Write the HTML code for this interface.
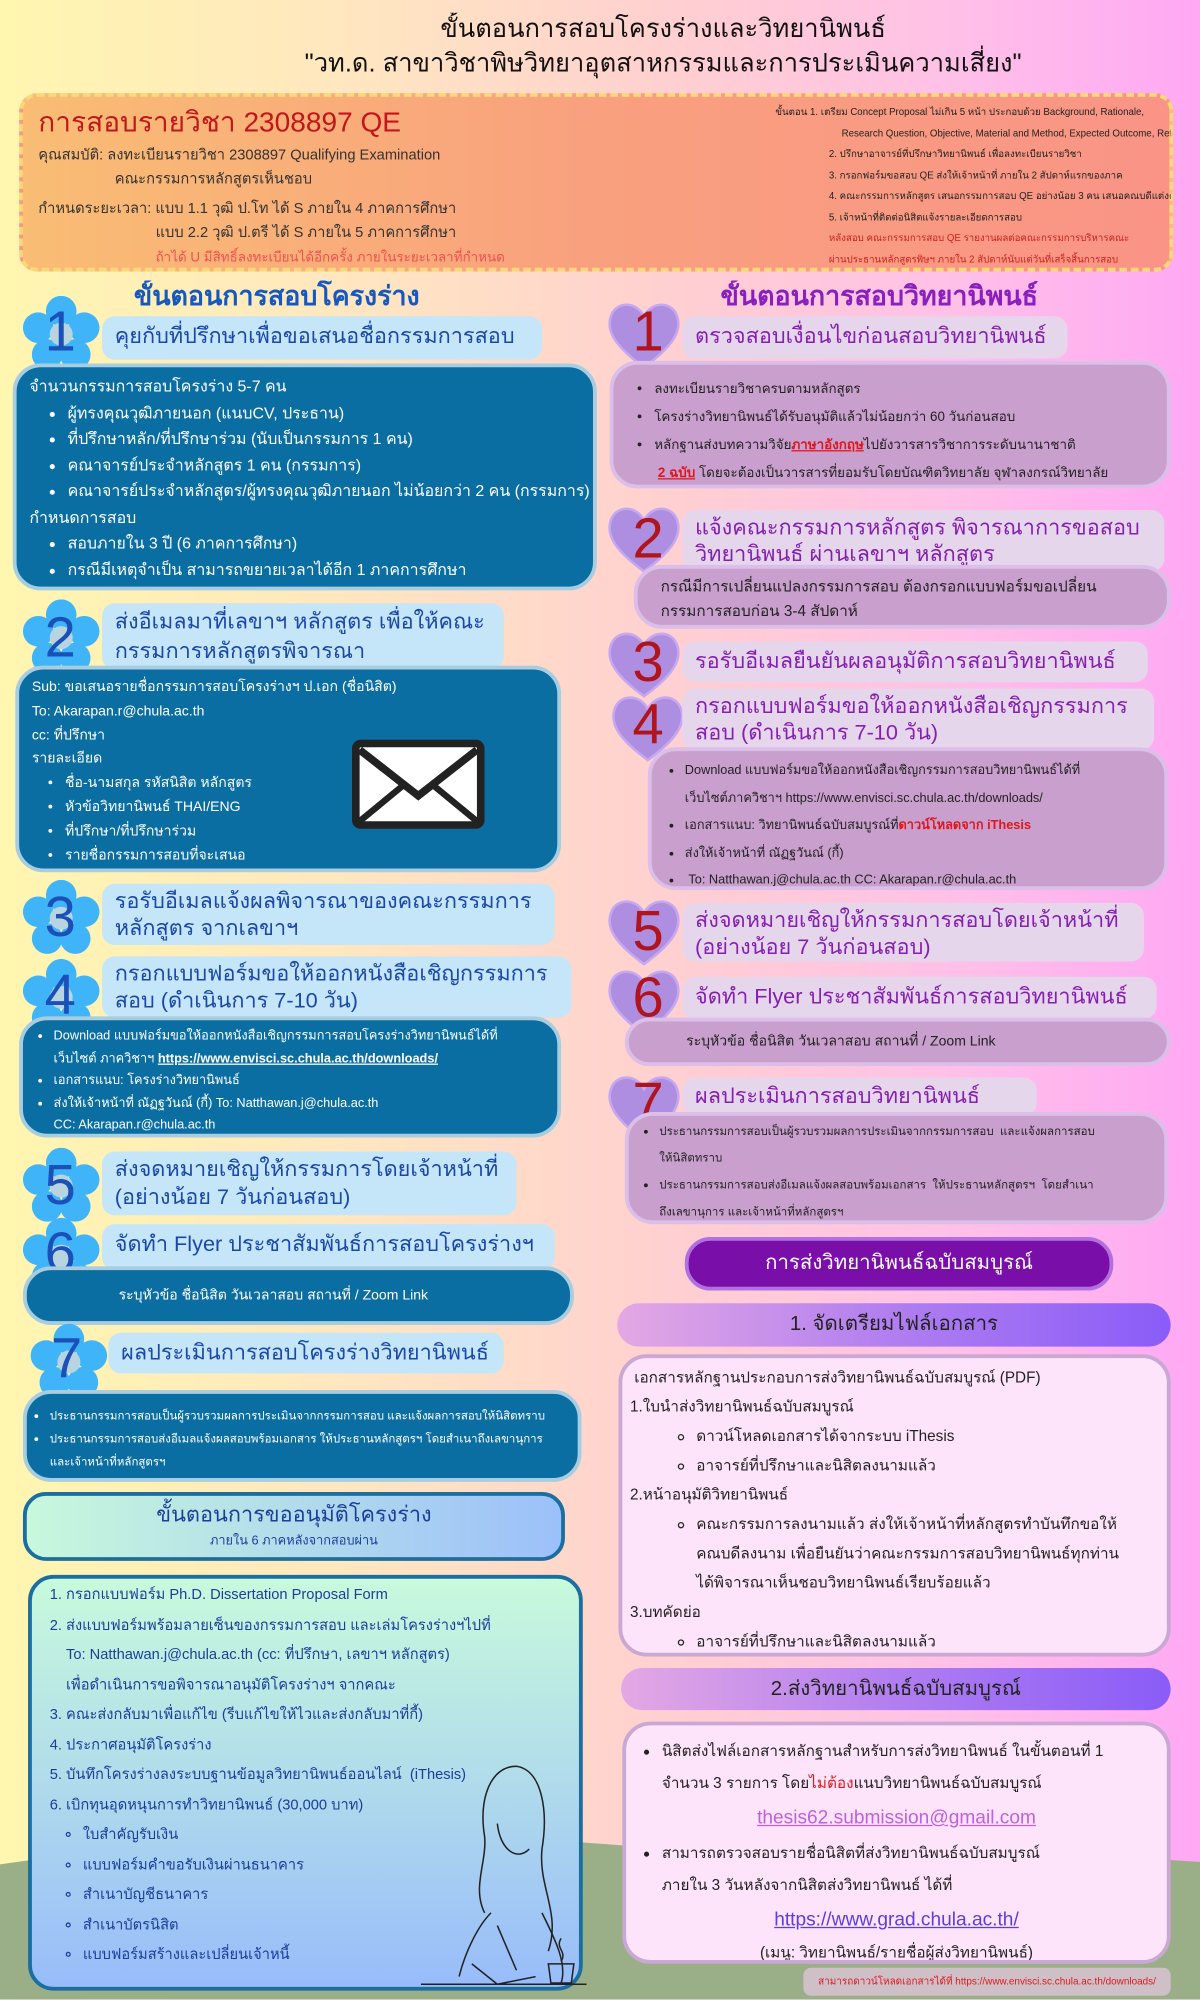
<!DOCTYPE html>
<html><head><meta charset="utf-8">
<style>
html,body{margin:0;padding:0;width:1200px;height:2000px;overflow:hidden}
body{font-family:"Liberation Sans","Noto Sans CJK SC",sans-serif}
#w{position:absolute;left:0;top:0;width:941px;height:1568px;transform:scale(1.27524);transform-origin:0 0;
background:linear-gradient(90deg,#fff6b0 0%,#ffe6c0 30%,#ffd0d0 55%,#ffc0e8 80%,#ffa8f4 100%);overflow:hidden}
.a{position:absolute;box-sizing:border-box}
.t{white-space:nowrap;overflow:hidden}
.lblL{background:#c4e6f8;border-radius:10px;color:#1a47a8;font-size:17px;line-height:26px;padding:3px 10px}
.boxL{background:#0a6ea3;border:3px solid #a8cde0;border-radius:22px;color:#fff;font-size:12.5px;line-height:20.5px;padding:5px 10px}
.lblR{background:#e6d6ec;border-radius:10px;color:#8420b0;font-size:17px;line-height:26px;padding:3px 10px}
.boxR{background:#c99fcd;border:3px solid #dcbfe8;border-radius:22px;color:#222;font-size:12px;line-height:23px;padding:6px 10px}
ul{margin:0;padding-left:30px}
.bar{border-radius:18px;background:linear-gradient(90deg,#e4a8e4,#b07ef0,#8a5cf8);color:#222;font-size:16px;text-align:center}
.pbox{background:#fde4fa;border:3px solid #c9a8d4;border-radius:22px;color:#222;font-size:12.5px;line-height:23px}
.num{position:absolute;font-size:44px;line-height:46px}
</style></head><body><div id="w">

<svg class="a" style="left:0;top:0" width="941" height="1568">
<path d="M0 1462 Q150 1440 300 1440 Q420 1440 520 1450 Q700 1445 941 1460 L941 1568 L0 1568Z" fill="#9aae88"/>
</svg>

<div class="a t" style="left:0;width:1040px;top:10px;text-align:center;font-size:20px;line-height:27px;color:#111">ขั้นตอนการสอบโครงร่างและวิทยานิพนธ์<br>"วท.ด. สาขาวิชาพิษวิทยาอุตสาหกรรมและการประเมินความเสี่ยง"</div>

<div class="a" style="left:15px;top:73px;width:905px;height:140px;border:3px dashed #f8d878;border-radius:14px;background:linear-gradient(90deg,#f9bd74,#f9a07e,#f99486)"></div>
<div class="a t" style="left:30px;top:82px;font-size:22px;line-height:28px;color:#c0161c">การสอบรายวิชา 2308897 QE</div>
<div class="a t" style="left:30px;top:113px;font-size:11.5px;line-height:19px;color:#333">คุณสมบัติ: ลงทะเบียนรายวิชา 2308897 Qualifying Examination<br><span style="padding-left:60px">คณะกรรมการหลักสูตรเห็นชอบ</span></div>
<div class="a t" style="left:30px;top:155px;font-size:11.5px;line-height:19px;color:#333">กำหนดระยะเวลา: แบบ 1.1 วุฒิ ป.โท ได้ S ภายใน 4 ภาคการศึกษา<br><span style="padding-left:92px">แบบ 2.2 วุฒิ ป.ตรี ได้ S ภายใน 5 ภาคการศึกษา</span><br><span style="padding-left:92px;color:#f05050;font-size:10.5px">ถ้าได้ U มีสิทธิ์ลงทะเบียนได้อีกครั้ง ภายในระยะเวลาที่กำหนด</span></div>
<div class="a t" style="left:608px;top:80px;width:310px;font-size:7.6px;line-height:16.5px;color:#222">ขั้นตอน 1. เตรียม Concept Proposal ไม่เกิน 5 หน้า ประกอบด้วย Background, Rationale,<br><span style="padding-left:52px">Research Question, Objective, Material and Method, Expected Outcome, Reference</span><br><span style="padding-left:42px">2. ปรึกษาอาจารย์ที่ปรึกษาวิทยานิพนธ์ เพื่อลงทะเบียนรายวิชา</span><br><span style="padding-left:42px">3. กรอกฟอร์มขอสอบ QE ส่งให้เจ้าหน้าที่ ภายใน 2 สัปดาห์แรกของภาค</span><br><span style="padding-left:42px">4. คณะกรรมการหลักสูตร เสนอกรรมการสอบ QE อย่างน้อย 3 คน เสนอคณบดีแต่งตั้ง</span><br><span style="padding-left:42px">5. เจ้าหน้าที่ติดต่อนิสิตแจ้งรายละเอียดการสอบ</span><br><span style="padding-left:42px;color:#d0201c">หลังสอบ คณะกรรมการสอบ QE รายงานผลต่อคณะกรรมการบริหารคณะ</span><br><span style="padding-left:42px;color:#d0201c">ผ่านประธานหลักสูตรพิษฯ ภายใน 2 สัปดาห์นับแต่วันที่เสร็จสิ้นการสอบ</span></div>

<div class="a t" style="left:105px;top:220px;font-size:21px;line-height:26px;font-weight:bold;color:#1558c0">ขั้นตอนการสอบโครงร่าง</div>
<div class="a t" style="left:565px;top:220px;font-size:21px;line-height:26px;font-weight:bold;color:#8a1fc0">ขั้นตอนการสอบวิทยานิพนธ์</div>

<svg width="0" height="0" style="position:absolute"><defs>
<g id="fl"><circle cx="30" cy="12" r="12" fill="#3fb4f8"/><circle cx="48" cy="25" r="12" fill="#3fb4f8"/><circle cx="41" cy="46" r="12" fill="#3fb4f8"/><circle cx="19" cy="46" r="12" fill="#3fb4f8"/><circle cx="12" cy="25" r="12" fill="#3fb4f8"/><circle cx="30" cy="30" r="9" fill="#b8d4e0"/></g>
<g id="ht"><path d="M30 56 C8 40 0 28 4 16 C8 4 24 4 30 16 C36 4 52 4 56 16 C60 28 52 40 30 56Z" fill="#ae8ee0" stroke="#c6a8f0" stroke-width="2"/></g>
</defs></svg>

<!-- L1 -->
<svg class="a" style="left:18px;top:232px" width="62" height="62"><use href="#fl"/></svg>
<div class="num" style="left:35px;top:238px;color:#1a50b8">1</div>
<div class="a lblL t" style="left:80px;top:248px;width:345px;height:34px">คุยกับที่ปรึกษาเพื่อขอเสนอชื่อกรรมการสอบ</div>
<div class="a boxL t" style="left:10px;top:285px;width:458px;height:178px">จำนวนกรรมการสอบโครงร่าง 5-7 คน
<ul><li>ผู้ทรงคุณวุฒิภายนอก (แนบCV, ประธาน)</li><li>ที่ปรึกษาหลัก/ที่ปรึกษาร่วม (นับเป็นกรรมการ 1 คน)</li><li>คณาจารย์ประจำหลักสูตร 1 คน (กรรมการ)</li><li>คณาจารย์ประจำหลักสูตร/ผู้ทรงคุณวุฒิภายนอก ไม่น้อยกว่า 2 คน (กรรมการ)</li></ul>กำหนดการสอบ<ul><li>สอบภายใน 3 ปี (6 ภาคการศึกษา)</li><li>กรณีมีเหตุจำเป็น สามารถขยายเวลาได้อีก 1 ภาคการศึกษา</li></ul></div>

<!-- L2 -->
<svg class="a" style="left:18px;top:470px" width="62" height="62"><use href="#fl"/></svg>
<div class="num" style="left:35px;top:478px;color:#1a50b8">2</div>
<div class="a lblL t" style="left:80px;top:473px;width:315px;height:52px;line-height:23px">ส่งอีเมลมาที่เลขาฯ หลักสูตร เพื่อให้คณะ<br>กรรมการหลักสูตรพิจารณา</div>
<div class="a boxL t" style="left:12px;top:522px;width:428px;height:162px;font-size:11px;line-height:18.8px">Sub: ขอเสนอรายชื่อกรรมการสอบโครงร่างฯ ป.เอก (ชื่อนิสิต)<br>To: Akarapan.r@chula.ac.th<br>cc: ที่ปรึกษา<br>รายละเอียด<ul style="padding-left:26px"><li>ชื่อ-นามสกุล รหัสนิสิต หลักสูตร</li><li>หัวข้อวิทยานิพนธ์ THAI/ENG</li><li>ที่ปรึกษา/ที่ปรึกษาร่วม</li><li>รายชื่อกรรมการสอบที่จะเสนอ</li></ul></div>
<svg class="a" style="left:276px;top:580px" width="104" height="70"><rect x="3" y="3" width="98" height="64" rx="4" fill="#fff" stroke="#222" stroke-width="6"/><path d="M6 8 L52 44 L98 8" fill="none" stroke="#222" stroke-width="6"/><path d="M6 64 L40 36 M98 64 L64 36" stroke="#222" stroke-width="5"/></svg>

<!-- L3 -->
<svg class="a" style="left:18px;top:690px" width="62" height="62"><use href="#fl"/></svg>
<div class="num" style="left:35px;top:697px;color:#1a50b8">3</div>
<div class="a lblL t" style="left:80px;top:693px;width:355px;height:48px;line-height:21px">รอรับอีเมลแจ้งผลพิจารณาของคณะกรรมการ<br>หลักสูตร จากเลขาฯ</div>

<!-- L4 -->
<svg class="a" style="left:18px;top:752px" width="62" height="62"><use href="#fl"/></svg>
<div class="num" style="left:35px;top:758px;color:#1a50b8">4</div>
<div class="a lblL t" style="left:80px;top:750px;width:368px;height:48px;line-height:21px">กรอกแบบฟอร์มขอให้ออกหนังสือเชิญกรรมการ<br>สอบ (ดำเนินการ 7-10 วัน)</div>
<div class="a boxL t" style="left:15px;top:797px;width:425px;height:95px;font-size:10px;line-height:17.5px;padding:4px 6px"><ul style="padding-left:18px"><li>Download แบบฟอร์มขอให้ออกหนังสือเชิญกรรมการสอบโครงร่างวิทยานิพนธ์ได้ที่<br>เว็บไซต์ ภาควิชาฯ <u><b>https://www.envisci.sc.chula.ac.th/downloads/</b></u></li><li>เอกสารแนบ: โครงร่างวิทยานิพนธ์</li><li>ส่งให้เจ้าหน้าที่ ณัฏฐวันณ์ (กี้) To: Natthawan.j@chula.ac.th<br>CC: Akarapan.r@chula.ac.th</li></ul></div>

<!-- L5 -->
<svg class="a" style="left:18px;top:900px" width="62" height="62"><use href="#fl"/></svg>
<div class="num" style="left:35px;top:907px;color:#1a50b8">5</div>
<div class="a lblL t" style="left:80px;top:903px;width:325px;height:50px;line-height:22px">ส่งจดหมายเชิญให้กรรมการโดยเจ้าหน้าที่<br>(อย่างน้อย 7 วันก่อนสอบ)</div>

<!-- L6 -->
<svg class="a" style="left:18px;top:955px" width="62" height="62"><use href="#fl"/></svg>
<div class="num" style="left:35px;top:960px;color:#1a50b8">6</div>
<div class="a lblL t" style="left:80px;top:960px;width:355px;height:36px">จัดทำ Flyer ประชาสัมพันธ์การสอบโครงร่างฯ</div>
<div class="a boxL t" style="left:18px;top:993px;width:432px;height:46px;font-size:11px;line-height:40px;padding:0 0 0 72px">ระบุหัวข้อ ชื่อนิสิต วันเวลาสอบ สถานที่ / Zoom Link</div>

<!-- L7 -->
<svg class="a" style="left:24px;top:1038px" width="62" height="62"><use href="#fl"/></svg>
<div class="num" style="left:40px;top:1043px;color:#1a50b8">7</div>
<div class="a lblL t" style="left:85px;top:1045px;width:310px;height:32px">ผลประเมินการสอบโครงร่างวิทยานิพนธ์</div>
<div class="a boxL t" style="left:18px;top:1090px;width:438px;height:72px;font-size:9px;line-height:18px;padding:8px 4px"><ul style="padding-left:14px"><li>ประธานกรรมการสอบเป็นผู้รวบรวมผลการประเมินจากกรรมการสอบ และแจ้งผลการสอบให้นิสิตทราบ</li><li>ประธานกรรมการสอบส่งอีเมลแจ้งผลสอบพร้อมเอกสาร ให้ประธานหลักสูตรฯ โดยสำเนาถึงเลขานุการ<br>และเจ้าหน้าที่หลักสูตรฯ</li></ul></div>

<!-- approval -->
<div class="a" style="left:18px;top:1170px;width:425px;height:54px;border:3px solid #1a6fa0;border-radius:18px;background:linear-gradient(90deg,#c8f8dc,#9cc0fa);text-align:center;color:#1a3e9a">
<div style="font-size:17px;line-height:26px;margin-top:2px">ขั้นตอนการขออนุมัติโครงร่าง</div><div style="font-size:10px;line-height:16px">ภายใน 6 ภาคหลังจากสอบผ่าน</div></div>
<div class="a t" style="left:22px;top:1235px;width:435px;height:326px;border:3px solid #1a6fa0;border-radius:20px;background:linear-gradient(180deg,#c8fadc,#98bcfa);color:#1a3e9a;font-size:11.5px;line-height:23.5px;padding:2px 10px 0 14px">
1. กรอกแบบฟอร์ม Ph.D. Dissertation Proposal Form<br>2. ส่งแบบฟอร์มพร้อมลายเซ็นของกรรมการสอบ และเล่มโครงร่างฯไปที่<br>&nbsp;&nbsp;&nbsp;&nbsp;To: Natthawan.j@chula.ac.th (cc: ที่ปรึกษา, เลขาฯ หลักสูตร)<br>&nbsp;&nbsp;&nbsp;&nbsp;เพื่อดำเนินการขอพิจารณาอนุมัติโครงร่างฯ จากคณะ<br>3. คณะส่งกลับมาเพื่อแก้ไข (รีบแก้ไขให้ไวและส่งกลับมาที่กี้)<br>4. ประกาศอนุมัติโครงร่าง<br>5. บันทึกโครงร่างลงระบบฐานข้อมูลวิทยานิพนธ์ออนไลน์ &nbsp;(iThesis)<br>6. เบิกทุนอุดหนุนการทำวิทยานิพนธ์ (30,000 บาท)<br>
<ul style="list-style:circle;padding-left:26px"><li>ใบสำคัญรับเงิน</li><li>แบบฟอร์มคำขอรับเงินผ่านธนาคาร</li><li>สำเนาบัญชีธนาคาร</li><li>สำเนาบัตรนิสิต</li><li>แบบฟอร์มสร้างและเปลี่ยนเจ้าหนี้</li></ul></div>
<svg class="a" style="left:330px;top:1380px" width="130" height="180" fill="none" stroke="#222" stroke-width="1.2">
<path d="M75 5 C55 5 45 30 50 60 C52 80 40 100 50 120 M75 5 C95 8 100 40 95 70 C92 100 110 120 100 150"/>
<path d="M60 50 C62 70 75 80 85 70"/><path d="M55 120 C45 130 35 150 30 170 M95 120 C105 140 115 160 110 175"/>
<path d="M0 176 L130 176"/><path d="M40 160 L60 176 L90 170"/><path d="M60 130 L75 165"/>
<path d="M100 160 L120 160 L118 175 L102 175Z"/><path d="M110 140 C105 148 115 150 110 158"/></svg>

<!-- RIGHT COLUMN -->
<svg class="a" style="left:475px;top:232px" width="62" height="60"><use href="#ht"/></svg>
<div class="num" style="left:496px;top:238px;color:#b0141c">1</div>
<div class="a lblR t" style="left:535px;top:248px;width:302px;height:33px">ตรวจสอบเงื่อนไขก่อนสอบวิทยานิพนธ์</div>
<div class="a boxR t" style="left:478px;top:283px;width:440px;height:100px;font-size:10.5px;line-height:22px;padding-top:8px"><ul style="padding-left:22px"><li>ลงทะเบียนรายวิชาครบตามหลักสูตร</li><li>โครงร่างวิทยานิพนธ์ได้รับอนุมัติแล้วไม่น้อยกว่า 60 วันก่อนสอบ</li><li>หลักฐานส่งบทความวิจัย<b style="color:#e0161c"><u>ภาษาอังกฤษ</u></b>ไปยังวารสารวิชาการระดับนานาชาติ<br>&nbsp;<b style="color:#e0161c"><u>2 ฉบับ</u></b> โดยจะต้องเป็นวารสารที่ยอมรับโดยบัณฑิตวิทยาลัย จุฬาลงกรณ์วิทยาลัย</li></ul></div>

<svg class="a" style="left:475px;top:392px" width="62" height="60"><use href="#ht"/></svg>
<div class="num" style="left:496px;top:400px;color:#b0141c">2</div>
<div class="a lblR t" style="left:535px;top:400px;width:378px;height:48px;line-height:21px">แจ้งคณะกรรมการหลักสูตร พิจารณาการขอสอบ<br>วิทยานิพนธ์ ผ่านเลขาฯ หลักสูตร</div>
<div class="a boxR t" style="left:497px;top:443px;width:421px;height:50px;font-size:12px;line-height:19px;padding:5px 0 0 18px">กรณีมีการเปลี่ยนแปลงกรรมการสอบ ต้องกรอกแบบฟอร์มขอเปลี่ยน<br>กรรมการสอบก่อน 3-4 สัปดาห์</div>

<svg class="a" style="left:475px;top:490px" width="62" height="60"><use href="#ht"/></svg>
<div class="num" style="left:496px;top:497px;color:#b0141c">3</div>
<div class="a lblR t" style="left:535px;top:503px;width:365px;height:32px">รอรับอีเมลยืนยันผลอนุมัติการสอบวิทยานิพนธ์</div>

<svg class="a" style="left:478px;top:540px" width="62" height="60"><use href="#ht"/></svg>
<div class="num" style="left:496px;top:546px;color:#b0141c">4</div>
<div class="a lblR t" style="left:535px;top:540px;width:370px;height:48px;line-height:21px">กรอกแบบฟอร์มขอให้ออกหนังสือเชิญกรรมการ<br>สอบ (ดำเนินการ 7-10 วัน)</div>
<div class="a boxR t" style="left:508px;top:586px;width:408px;height:112px;font-size:10px;line-height:21.5px;padding:5px 4px"><ul style="padding-left:22px"><li>Download แบบฟอร์มขอให้ออกหนังสือเชิญกรรมการสอบวิทยานิพนธ์ได้ที่<br>เว็บไซต์ภาควิชาฯ https://www.envisci.sc.chula.ac.th/downloads/</li><li>เอกสารแนบ: วิทยานิพนธ์ฉบับสมบูรณ์ที่<b style="color:#e0161c">ดาวน์โหลดจาก iThesis</b></li><li>ส่งให้เจ้าหน้าที่ ณัฏฐวันณ์ (กี้)</li><li>&nbsp;To: Natthawan.j@chula.ac.th CC: Akarapan.r@chula.ac.th</li></ul></div>

<svg class="a" style="left:475px;top:700px" width="62" height="60"><use href="#ht"/></svg>
<div class="num" style="left:496px;top:708px;color:#b0141c">5</div>
<div class="a lblR t" style="left:535px;top:708px;width:362px;height:46px;line-height:21px">ส่งจดหมายเชิญให้กรรมการสอบโดยเจ้าหน้าที่<br>(อย่างน้อย 7 วันก่อนสอบ)</div>

<svg class="a" style="left:475px;top:755px" width="62" height="60"><use href="#ht"/></svg>
<div class="num" style="left:496px;top:760px;color:#b0141c">6</div>
<div class="a lblR t" style="left:535px;top:766px;width:372px;height:33px">จัดทำ Flyer ประชาสัมพันธ์การสอบวิทยานิพนธ์</div>
<div class="a boxR t" style="left:490px;top:798px;width:428px;height:38px;font-size:11px;line-height:32px;padding:0 0 0 45px">ระบุหัวข้อ ชื่อนิสิต วันเวลาสอบ สถานที่ / Zoom Link</div>

<svg class="a" style="left:475px;top:838px" width="62" height="60"><use href="#ht"/></svg>
<div class="num" style="left:496px;top:843px;color:#b0141c">7</div>
<div class="a lblR t" style="left:535px;top:845px;width:278px;height:30px;line-height:24px">ผลประเมินการสอบวิทยานิพนธ์</div>
<div class="a boxR t" style="left:490px;top:872px;width:426px;height:88px;font-size:9px;line-height:21px;padding:2px 6px"><ul style="padding-left:18px"><li>ประธานกรรมการสอบเป็นผู้รวบรวมผลการประเมินจากกรรมการสอบ &nbsp;และแจ้งผลการสอบ<br>ให้นิสิตทราบ</li><li>ประธานกรรมการสอบส่งอีเมลแจ้งผลสอบพร้อมเอกสาร &nbsp;ให้ประธานหลักสูตรฯ &nbsp;โดยสำเนา<br>ถึงเลขานุการ และเจ้าหน้าที่หลักสูตรฯ</li></ul></div>

<div class="a t" style="left:537px;top:970px;width:336px;height:42px;border-radius:20px;background:#7a0ea8;border:3px solid #b070e0;color:#fff;font-size:16px;line-height:36px;text-align:center">การส่งวิทยานิพนธ์ฉบับสมบูรณ์</div>
<div class="a bar t" style="left:484px;top:1022px;width:434px;height:34px;line-height:34px">1. จัดเตรียมไฟล์เอกสาร</div>
<div class="a pbox t" style="left:485px;top:1062px;width:433px;height:237px;padding:4px 0 0 6px;font-size:12px;line-height:23px">&nbsp;เอกสารหลักฐานประกอบการส่งวิทยานิพนธ์ฉบับสมบูรณ์ (PDF)<br>1.ใบนำส่งวิทยานิพนธ์ฉบับสมบูรณ์
<ul style="list-style:circle;padding-left:52px"><li>ดาวน์โหลดเอกสารได้จากระบบ iThesis</li><li>อาจารย์ที่ปรึกษาและนิสิตลงนามแล้ว</li></ul>2.หน้าอนุมัติวิทยานิพนธ์
<ul style="list-style:circle;padding-left:52px"><li>คณะกรรมการลงนามแล้ว ส่งให้เจ้าหน้าที่หลักสูตรทำบันทึกขอให้<br>คณบดีลงนาม เพื่อยืนยันว่าคณะกรรมการสอบวิทยานิพนธ์ทุกท่าน<br>ได้พิจารณาเห็นชอบวิทยานิพนธ์เรียบร้อยแล้ว</li></ul>3.บทคัดย่อ
<ul style="list-style:circle;padding-left:52px"><li>อาจารย์ที่ปรึกษาและนิสิตลงนามแล้ว</li></ul></div>
<div class="a bar t" style="left:487px;top:1308px;width:431px;height:33px;line-height:33px">2.ส่งวิทยานิพนธ์ฉบับสมบูรณ์</div>
<div class="a pbox t" style="left:488px;top:1350px;width:430px;height:190px;padding:8px 6px 0 6px;font-size:12px;line-height:25px">
<ul style="padding-left:22px"><li>นิสิตส่งไฟล์เอกสารหลักฐานสำหรับการส่งวิทยานิพนธ์ ในขั้นตอนที่ 1<br>จำนวน 3 รายการ โดย<span style="color:#e0161c">ไม่ต้อง</span>แนบวิทยานิพนธ์ฉบับสมบูรณ์</li></ul>
<div style="text-align:center;color:#c060e0;font-size:15px;line-height:30px"><u>thesis62.submission@gmail.com</u></div>
<ul style="padding-left:22px"><li>สามารถตรวจสอบรายชื่อนิสิตที่ส่งวิทยานิพนธ์ฉบับสมบูรณ์<br>ภายใน 3 วันหลังจากนิสิตส่งวิทยานิพนธ์ ได้ที่</li></ul>
<div style="text-align:center;color:#5a3ee0;font-size:15px;line-height:30px"><u>https://www.grad.chula.ac.th/</u></div>
<div style="text-align:center;font-size:12px;line-height:20px">(เมนู: วิทยานิพนธ์/รายชื่อผู้ส่งวิทยานิพนธ์)</div></div>
<div class="a t" style="left:630px;top:1543px;width:288px;height:22px;border-radius:6px;background:#cfc0c8;color:#e0161c;font-size:7.8px;line-height:22px;text-align:center">สามารถดาวน์โหลดเอกสารได้ที่ https://www.envisci.sc.chula.ac.th/downloads/</div>

</div></body></html>
